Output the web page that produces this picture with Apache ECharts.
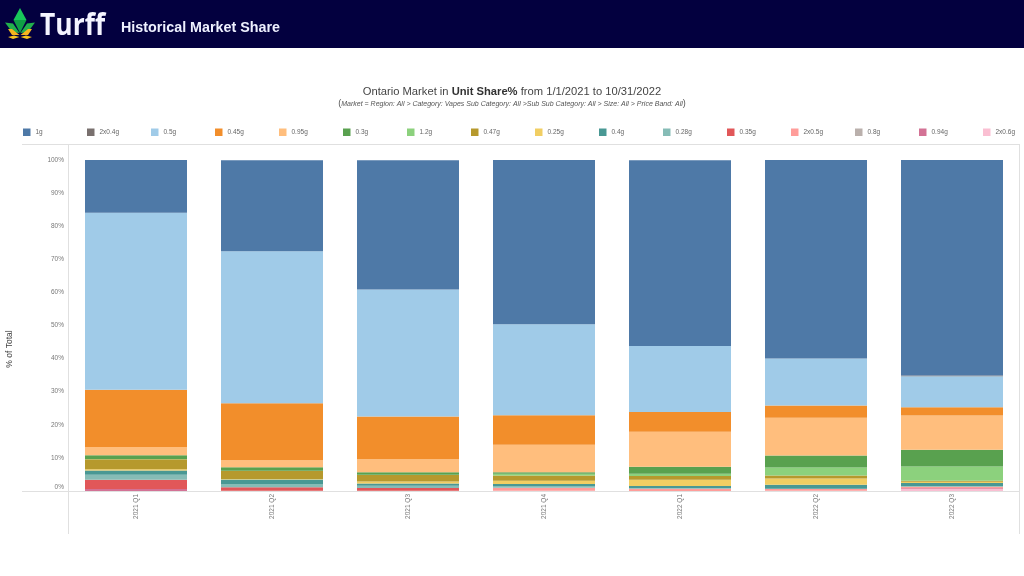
<!DOCTYPE html>
<html><head><meta charset="utf-8">
<style>html,body{margin:0;padding:0;background:#fff}#c{width:1024px;height:576px}</style>
<script src="https://cdn.jsdelivr.net/npm/echarts@6/dist/echarts.min.js"></script>
</head><body><div id="c"></div>
<script>
const quarters = ['2021 Q1','2021 Q2','2021 Q3','2021 Q4','2022 Q1','2022 Q2','2022 Q3'];
const tickLabels = ['0%','10%','20%','30%','40%','50%','60%','70%','80%','90%','100%'];
const sizes = ['1g','2x0.4g','0.5g','0.45g','0.95g','0.3g','1.2g','0.47g','0.25g','0.4g','0.28g','0.35g','2x0.5g','0.8g','0.94g','2x0.6g'];
const colors = ['#4e79a7','#79706e','#a0cbe8','#f28e2b','#ffbe7d','#59a14f','#8cd17d','#b6992d','#f1ce63','#499894','#86bcb6','#e15759','#ff9d9a','#bab0ac','#d37295','#fabfd2'];
const s1g    = [15.9,27.5,39.0,49.6,56.1,60.2,65.4];
const s2x04  = [0,0,0,0,0,0,0.2];
const s05    = [53.5,45.9,38.4,27.5,19.9,14.2,9.4];
const s045   = [17.3,17.2,12.9,8.9,6.0,3.7,2.5];
const s095   = [2.5,2.1,3.9,8.3,10.6,11.4,10.3];
const s03    = [1.1,1.1,0.8,0.5,2.1,3.6,5.1];
const s12    = [0.1,0.0,0.1,0.5,0.7,2.4,4.3];
const s047   = [3.0,2.5,1.9,1.6,1.1,0.9,0.3];
const s025   = [0.4,0.1,0.6,1.0,1.9,1.9,0.4];
const s04    = [1.3,1.4,0.7,0.6,0.7,1.2,0.9];
const s028   = [1.5,1.0,0.7,0.5,0.1,0.1,0.2];
const s035   = [2.8,1.0,0.8,0.0,0.0,0.0,0.1];
const s2x05  = [0,0.1,0.1,0.9,0.7,0.5,0.4];
const s08    = [0,0,0,0,0,0,0];
const s094   = [0.6,0,0,0,0,0,0.2];
const s2x06  = [0,0,0,0.1,0,0.1,0.6];
const values = [s1g,s2x04,s05,s045,s095,s03,s12,s047,s025,s04,s028,s035,s2x05,s08,s094,s2x06];

const FONT = '"Liberation Sans", Arial, sans-serif';
const order = sizes.map((_, i) => i).reverse();
const series = order.map(i => ({
  name: sizes[i], type: 'bar', stack: 'share', barWidth: 102, data: values[i],
  itemStyle: {color: colors[i]}
}));
const legends = sizes.map((n, i) => ({
  data: [n], left: 23 + i * 64, top: 128.5, padding: 0,
  itemWidth: 7.5, itemHeight: 7.5, itemGap: 2.5, icon: 'rect',
  textStyle: {fontSize: 6.5, color: '#666', fontFamily: FONT}, selectedMode: false
}));
const line = (x1,y1,x2,y2) => ({type:'line', silent:true, shape:{x1,y1,x2,y2}, style:{stroke:'#e0e0e0', lineWidth:1}});
const poly = (points, fill) => ({type:'polygon', silent:true, shape:{points}, style:{fill}});

const chart = echarts.init(document.getElementById('c'), null, {renderer:'canvas'});
chart.setOption({
  animation: false,
  backgroundColor: '#fff',
  title: [{
    text: 'Ontario Market in {b|Unit Share%} from 1/1/2021 to 10/31/2022',
    left: 512, textAlign: 'center', top: 86.5, padding: 0,
    textStyle: {fontSize: 11.2, fontWeight: 'normal', color: '#444', fontFamily: FONT,
      rich: {b: {fontSize: 11.2, fontWeight: 'bold', color: '#333', fontFamily: FONT}}}
  },{
    text: '({i|Market = Region: All > Category: Vapes Sub Category: All >Sub Sub Category: All > Size: All > Price Band: All})',
    left: 512, textAlign: 'center', top: 99.5, padding: 0,
    textStyle: {fontSize: 9, fontWeight: 'normal', color: '#555', fontFamily: FONT,
      rich: {i: {fontSize: 7, fontStyle: 'italic', color: '#555', fontFamily: FONT}}}
  }],
  legend: legends,
  grid: {left: 68, right: 4, top: 160, bottom: 85, containLabel: false, outerBoundsMode: 'none'},
  xAxis: {
    type: 'category', data: quarters,
    axisLine: {show: false}, axisTick: {show: false},
    axisLabel: {rotate: 90, fontSize: 6.5, color: '#777', margin: 3, fontFamily: FONT}
  },
  yAxis: {
    type: 'value', min: 0, max: 100, interval: 10,
    axisLine: {show: false}, axisTick: {show: false}, splitLine: {show: false},
    axisLabel: {fontSize: 6.5, color: '#777', margin: 4, fontFamily: FONT, verticalAlignMinLabel: 'bottom',
      formatter: (v) => tickLabels[Math.round(v / 10)]}
  },
  series,
  graphic: [
    {type:'rect', silent:true, z:-1, shape:{x:0,y:0,width:1024,height:48}, style:{fill:'#03003f'}},
    line(22,144.5,1020,144.5), line(22,491.5,1020,491.5),
    line(68.5,144,68.5,534), line(1019.5,144,1019.5,534),
    poly([[5,22.5],[13,23.5],[19.5,33],[12,32]], '#22b04c'),
    poly([[35,22.5],[27,23.5],[20.5,33],[28,32]], '#22b04c'),
    poly([[8,29],[12,29],[19.5,35],[12,35]], '#f5b41e'),
    poly([[32,29],[28,29],[20.5,35],[28,35]], '#f5b41e'),
    poly([[8,37],[14,35.5],[19.5,37],[13,39]], '#f7c31e'),
    poly([[32,37],[26,35.5],[20.5,37],[27,39]], '#f7c31e'),
    poly([[20,8],[26.5,20],[13.5,20]], '#19c75a'),
    poly([[13.5,20],[26.5,20],[20,33]], '#0f9f45'),
    {type:'text', silent:true, x:40, y:26.5, scaleX:0.88, style:{x:0, y:0, text:'Turff', fill:'#f4f4ff', font:'bold 30px "Open Sans", "Liberation Sans", sans-serif', verticalAlign:'middle'}},
    {type:'text', silent:true, style:{x:121, y:28, text:'Historical Market Share', fill:'#eef0ff', font:'bold 14.3px "Liberation Sans", Arial, sans-serif', verticalAlign:'middle'}},
    {type:'text', silent:true, x:10, y:349, rotation:Math.PI/2, style:{x:0, y:0, text:'% of Total', fill:'#444', font:'8.5px "Liberation Sans", Arial, sans-serif', align:'center', verticalAlign:'middle'}}
  ]
});
</script></body></html>
